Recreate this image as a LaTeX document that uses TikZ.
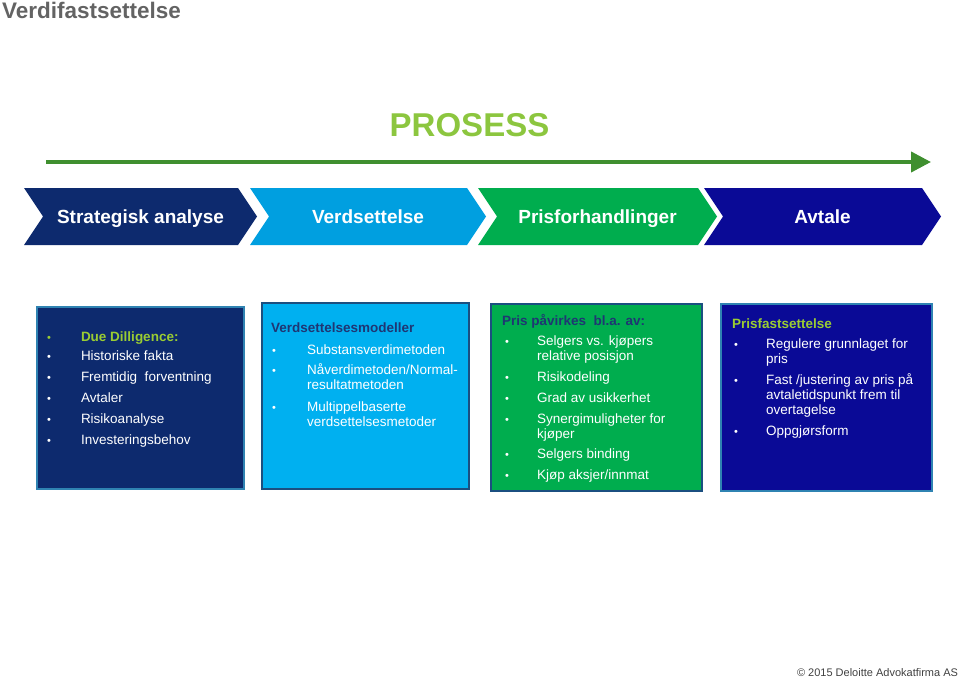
\documentclass[tikz,border=0pt]{standalone}
\usepackage{fontspec}
\setmainfont{Liberation Sans}
\usetikzlibrary{arrows.meta}
\definecolor{titlegray}{HTML}{636363}
\definecolor{lightgreen}{HTML}{8CC63F}
\definecolor{arrowgreen}{HTML}{3F8F2F}
\definecolor{navy}{HTML}{0D2A6E}
\definecolor{skyblue}{HTML}{009FE0}
\definecolor{brightblue}{HTML}{00B0F0}
\definecolor{midgreen}{HTML}{00AD4E}
\definecolor{deepblue}{HTML}{0A0A96}
\definecolor{edgeteal}{HTML}{2F83B2}
\definecolor{edgedark}{HTML}{1B4F80}
\definecolor{headnavy}{HTML}{1F3673}
\definecolor{yellowgreen}{HTML}{9ACD32}
\newcommand{\chevron}[5]{%
  \fill[#4] (#2,188) -- (#3,188) -- ++(19,28.5) -- (#3,245) -- (#2,245) -- ++(19,-28.5) -- cycle;
  \node[chevtext] (#1) at ({(#2+#3)/2+9.5},223) {#5};}

\begin{document}
\begin{tikzpicture}[x=1pt,y=-1pt,
  every node/.style={inner sep=0pt,outer sep=0pt},
  chevtext/.style={anchor=base,text=white,font=\fontsize{19}{19}\selectfont\bfseries},
  panel/.style={line width=2pt,anchor=north west},
  itemtxt/.style={anchor=base west,text=white,font=\fontsize{13.5}{15}\selectfont},
  headtxt/.style={anchor=base west,font=\fontsize{13.5}{15}\selectfont\bfseries},
  bul/.style={anchor=base,text=white,font=\fontsize{11}{11}\selectfont}]
\useasboundingbox (0,0) rectangle (960,679);
% title and process arrow
\node[anchor=base west,text=titlegray,font=\fontsize{22.5}{22.5}\selectfont\bfseries] (title) at (2,19) {Verdifastsettelse};
\node[anchor=base,text=lightgreen,font=\fontsize{33}{33}\selectfont\bfseries] (prosess) at (469.5,137) {PROSESS};
\coordinate (pstart) at (46,162);
\coordinate (pend) at (931,162);
\draw[arrowgreen,line width=4pt,-{Triangle[length=20pt,width=20pt]}] (pstart) -- (pend);
% the four phases
\chevron{strat}{24}{238}{navy}{Strategisk analyse}
\chevron{verd}{250}{467}{skyblue}{Verdsettelse}
\chevron{pris}{478}{698}{midgreen}{Prisforhandlinger}
\chevron{avtale}{704}{922}{deepblue}{Avtale}
% panels
\node[panel,fill=navy,draw=edgeteal,minimum width=207pt,minimum height=182pt] (dd) at (37,307) {};
\node[panel,fill=brightblue,draw=edgedark,minimum width=207pt,minimum height=186pt] (vm) at (262,303) {};
\node[panel,fill=midgreen,draw=edgedark,minimum width=211pt,minimum height=187pt] (pp) at (491,304) {};
\node[panel,fill=deepblue,draw=edgeteal,minimum width=211pt,minimum height=187pt] (pf) at (721,304) {};
% panel 1
\node[bul,text=yellowgreen] (ddb0) at (49,341.5) {\textbullet};
\node[headtxt,text=yellowgreen] (ddh) at (81,341.5) {Due Dilligence:};
\foreach \yy/\txt [count=\i] in {360.5/Historiske fakta,381.5/Fremtidig\ \ forventning,
  402.5/Avtaler,423.5/Risikoanalyse,444.5/Investeringsbehov}{
  \node[bul] (ddb\i) at (49,\yy) {\textbullet};
  \node[itemtxt] (ddt\i) at (81,\yy) {\txt};}
% panel 2
\node[headtxt,text=headnavy] (vmh) at (271,332.5) {Verdsettelsesmodeller};
\foreach \yy/\txt [count=\i] in {354.5/{Substansverdimetoden},
  374.5/{Nåverdimetoden/Normal-\\resultatmetoden},
  411.5/{Multippelbaserte\\verdsettelsesmetoder}}{
  \node[bul] (vmb\i) at (274,\yy) {\textbullet};
  \node[itemtxt] (vmt\i) at (307,\yy) {\parbox[t]{160pt}{\txt}};}
% panel 3
\node[headtxt,text=headnavy] (pph) at (502,325.5) {Pris påvirkes\ \ bl.a. av:};
\foreach \yy/\txt [count=\i] in {345.5/{Selgers vs. kjøpers\\relative posisjon},
  381.5/{Risikodeling},402.5/{Grad av usikkerhet},
  423.5/{Synergimuligheter for\\kjøper},458.5/{Selgers binding},
  479.5/{Kjøp aksjer/innmat}}{
  \node[bul] (ppb\i) at (507,\yy) {\textbullet};
  \node[itemtxt] (ppt\i) at (537,\yy) {\parbox[t]{160pt}{\txt}};}
% panel 4
\node[headtxt,text=yellowgreen] (pfh) at (732,328.5) {Prisfastsettelse};
\foreach \yy/\txt [count=\i] in {348.5/{Regulere grunnlaget for\\pris},
  384.5/{Fast /justering av pris på\\avtaletidspunkt frem til\\overtagelse},
  435.5/{Oppgjørsform}}{
  \node[bul] (pfb\i) at (736,\yy) {\textbullet};
  \node[itemtxt] (pft\i) at (766,\yy) {\parbox[t]{160pt}{\txt}};}
% footer
\node[anchor=base east,text=black!75,font=\fontsize{11}{11}\selectfont] (copy) at (958,676) {© 2015 Deloitte Advokatfirma AS};
\end{tikzpicture}
\end{document}
